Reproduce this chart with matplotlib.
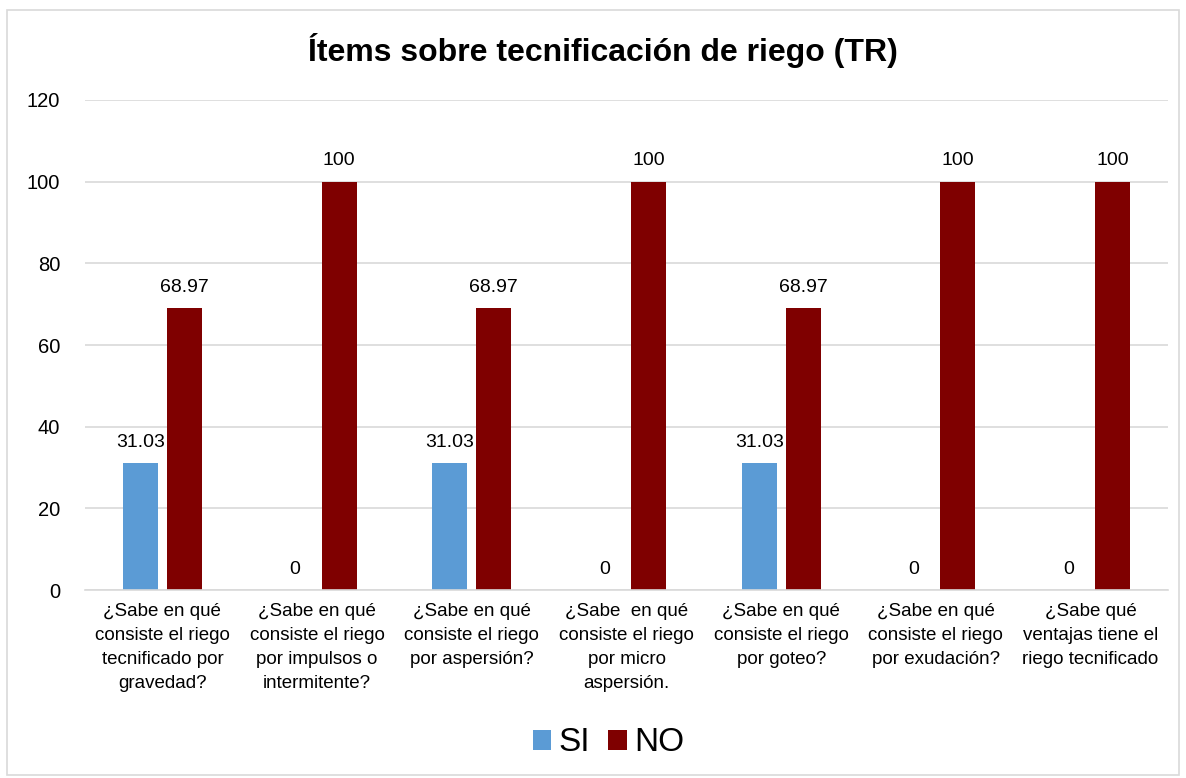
import numpy as np
import matplotlib.pyplot as plt
from matplotlib.patches import Rectangle

# Datos
categorias = [
    "¿Sabe en qué\nconsiste el riego\ntecnificado por\ngravedad?",
    "¿Sabe en qué\nconsiste el riego\npor impulsos o\nintermitente?",
    "¿Sabe en qué\nconsiste el riego\npor aspersión?",
    "¿Sabe  en qué\nconsiste el riego\npor micro\naspersión.",
    "¿Sabe en qué\nconsiste el riego\npor goteo?",
    "¿Sabe en qué\nconsiste el riego\npor exudación?",
    "¿Sabe qué\nventajas tiene el\nriego tecnificado",
]
si = [31.03, 0, 31.03, 0, 31.03, 0, 0]
no = [68.97, 100, 68.97, 100, 68.97, 100, 100]
etiquetas_si = ["31.03", "0", "31.03", "0", "31.03", "0", "0"]
etiquetas_no = ["68.97", "100", "68.97", "100", "68.97", "100", "100"]

plt.rcParams['font.family'] = ['Liberation Sans', 'DejaVu Sans']

fig = plt.figure(figsize=(11.86, 7.78), dpi=100)
ax = fig.add_axes([0.0717, 0.2416, 0.9131, 0.6299])

# Borde del gráfico
fig.patches.append(Rectangle((0.006, 0.004), 0.988, 0.983, transform=fig.transFigure,
                             fill=False, edgecolor='#d9d9d9', lw=1.2))

x = np.arange(len(categorias))
ancho = 0.226
desp = 0.142
b1 = ax.bar(x - desp, si, ancho, color='#5b9bd5', label='SI')
b2 = ax.bar(x + desp, no, ancho, color='#7f0000', label='NO')

for barras, textos in [(b1, etiquetas_si), (b2, etiquetas_no)]:
    for rect, t in zip(barras, textos):
        ax.annotate(t, (rect.get_x() + rect.get_width() / 2, rect.get_height()),
                    xytext=(0, 9), textcoords='offset points', ha='center', va='bottom',
                    fontsize=14)

ax.set_xlim(-0.5, len(categorias) - 0.5)
ax.set_ylim(0, 120)
ax.set_yticks(range(0, 121, 20))
ax.yaxis.grid(True, color='#d9d9d9', lw=1.2)
ax.set_axisbelow(True)
for s in ['top', 'right', 'left']:
    ax.spines[s].set_visible(False)
ax.spines['bottom'].set_color('#d9d9d9')
ax.spines['bottom'].set_linewidth(1.2)
ax.tick_params(axis='both', length=0)
ax.tick_params(axis='y', pad=18, labelsize=14.5)
ax.set_xticks(x)
ax.set_xticklabels(categorias, fontsize=13.5, linespacing=1.55)
ax.tick_params(axis='x', pad=9)

fig.text(0.508, 0.935, "Ítems sobre tecnificación de riego (TR)", ha='center', va='center',
         fontsize=23, fontweight='bold')

fig.legend(handles=[b1, b2], labels=['SI', 'NO'], loc='center', bbox_to_anchor=(0.513, 0.045),
           ncol=2, frameon=False, prop={'size': 24},
           handlelength=0.55, handleheight=0.55, handletextpad=0.22, columnspacing=0.55)

fig.savefig('out.png', dpi=100)
